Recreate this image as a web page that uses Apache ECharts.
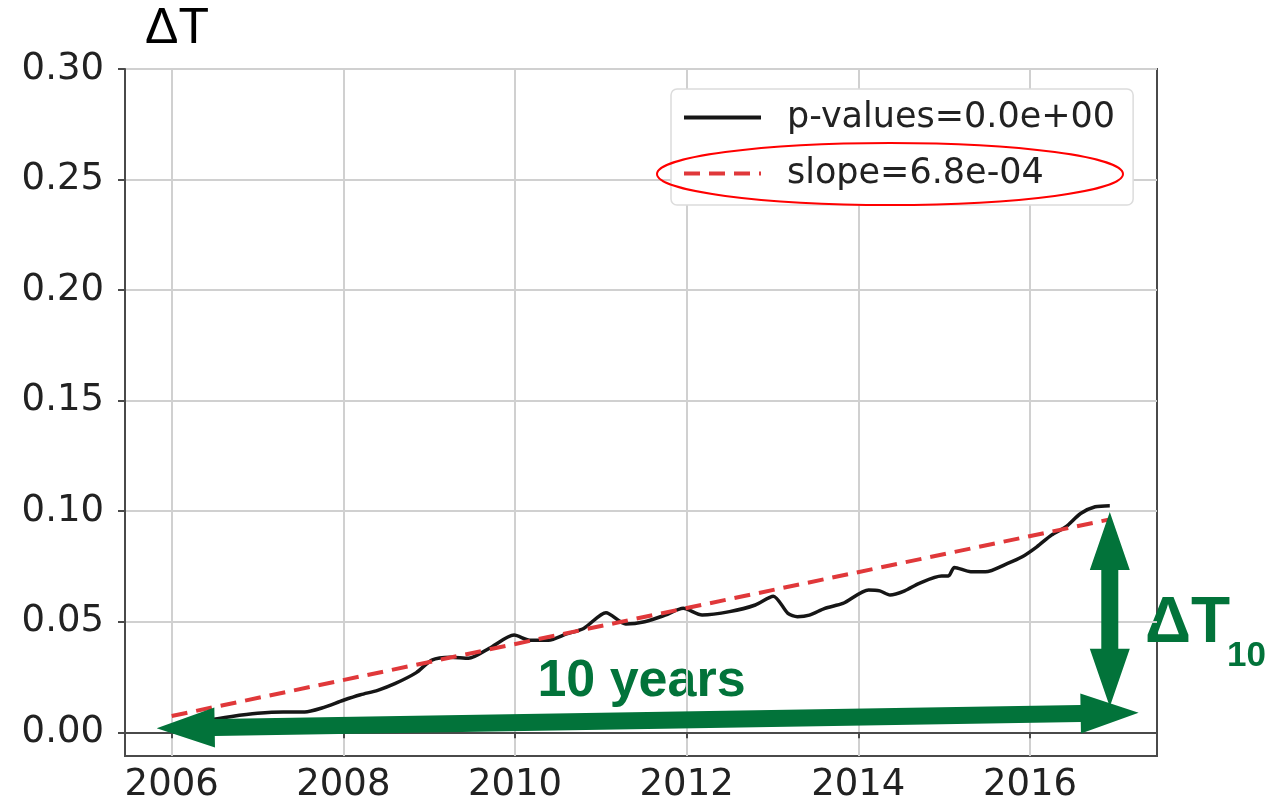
<!DOCTYPE html>
<html>
<head>
<meta charset="utf-8">
<script src="https://cdn.jsdelivr.net/npm/echarts@6/dist/echarts.min.js"></script>
<style>
  html, body { margin: 0; padding: 0; background: #fff; }
  #chart { width: 1273px; height: 808px; }
</style>
</head>
<body>
<div id="chart"></div>
<script>
// black curve: [year, deltaT]
const yearsObs = [2006.0, 2006.2, 2006.45, 2006.7, 2007.0, 2007.3, 2007.55, 2007.75, 2008.0, 2008.2,
  2008.4, 2008.6, 2008.85, 2009.03, 2009.25, 2009.46, 2009.7, 2009.99, 2010.17, 2010.39,
  2010.6, 2010.8, 2011.06, 2011.29, 2011.51, 2011.75, 2011.96, 2012.18, 2012.5, 2012.8,
  2013.01, 2013.18, 2013.29, 2013.43, 2013.61, 2013.82, 2014.12, 2014.25, 2014.37, 2014.54,
  2014.71, 2014.97, 2015.05, 2015.12, 2015.31, 2015.48, 2015.74, 2015.91, 2016.08, 2016.25,
  2016.42, 2016.59, 2016.76, 2016.93];
const deltaT = [0.001, 0.003, 0.0056, 0.0072, 0.0086, 0.0092, 0.0092, 0.011, 0.0145, 0.017,
  0.019, 0.022, 0.027, 0.0327, 0.034, 0.0335, 0.038, 0.044, 0.0417, 0.0417,
  0.0445, 0.047, 0.0541, 0.049, 0.050, 0.053, 0.0561, 0.0531, 0.0546, 0.0576,
  0.0616, 0.0538, 0.0523, 0.053, 0.0561, 0.0583, 0.0644, 0.064, 0.0621, 0.064,
  0.0674, 0.0707, 0.0707, 0.0746, 0.0726, 0.0726, 0.0764, 0.0794, 0.0839, 0.0892,
  0.093, 0.099, 0.102, 0.1025];
// fitted trend line end points
const trendYears = [2006.0, 2016.93];
const trendValues = [0.0074, 0.0963];
// tick labels
const xTicks = [2006, 2008, 2010, 2012, 2014, 2016];
const yTicks = [0, 0.05, 0.10, 0.15, 0.20, 0.25, 0.30];
// annotation arrows: [x1, y1, x2, y2] in data units
const arrowSpans = [[2005.825, 0.0018, 2017.266, 0.0089], [2016.93, 0.0997, 2016.93, 0.0116]];

const green = '#02733a';
const chart = echarts.init(document.getElementById('chart'));

function arrowItem(params, api) {
  const a = api.coord([api.value(0), api.value(1)]);
  const b = api.coord([api.value(2), api.value(3)]);
  const dx = b[0] - a[0], dy = b[1] - a[1];
  const len = Math.sqrt(dx * dx + dy * dy);
  const ux = dx / len, uy = dy / len, nx = -uy, ny = ux;
  const L = 58, hw = 20, sw = 8.5;
  const p = (base, s, k, w) => [base[0] + ux * s * k + nx * w, base[1] + uy * s * k + ny * w];
  const pts = [
    a, p(a, 1, L, hw), p(a, 1, L, sw), p(b, -1, L, sw), p(b, -1, L, hw),
    b, p(b, -1, L, -hw), p(b, -1, L, -sw), p(a, 1, L, -sw), p(a, 1, L, -hw)
  ];
  return { type: 'polygon', shape: { points: pts }, style: { fill: green } };
}

chart.setOption({
  animation: false,
  grid: {
    left: 125, top: 69, right: 116, bottom: 52,
    containLabel: false, outerBoundsMode: 'none',
    show: true, borderColor: '#4a4a4a', borderWidth: 2
  },
  legend: {
    data: ['p-values=0.0e+00', 'slope=6.8e-04'],
    orient: 'vertical',
    left: 671, top: 89,
    padding: [11, 18, 14, 11],
    itemWidth: 77, itemHeight: 14, itemGap: 21,
    itemStyle: { opacity: 0 },
    lineStyle: { width: 4 },
    backgroundColor: '#fff', borderColor: '#dcdcdc', borderWidth: 1.5, borderRadius: 6,
    textStyle: { fontFamily: 'DejaVu Sans', fontSize: 35, color: '#222', padding: [0, 0, 0, 21], lineHeight: 35 }
  },
  xAxis: {
    type: 'value', min: 2005.456, max: 2017.48,
    axisLine: { show: true, lineStyle: { color: '#4a4a4a', width: 2 } },
    axisTick: { show: true, length: 6, customValues: xTicks, lineStyle: { color: '#4a4a4a', width: 2 } },
    axisLabel: { customValues: xTicks, formatter: v => String(Math.round(v)), fontFamily: 'DejaVu Sans', fontSize: 37, color: '#222', margin: 11 },
    splitLine: { show: true, lineStyle: { color: '#d0d0d0', width: 2 } }
  },
  yAxis: {
    type: 'value', min: -0.0107, max: 0.30,
    axisLine: { show: true, lineStyle: { color: '#4a4a4a', width: 2 } },
    axisTick: { show: true, length: 7, customValues: yTicks, lineStyle: { color: '#4a4a4a', width: 2 } },
    axisLabel: { customValues: yTicks, formatter: v => v.toFixed(2), fontFamily: 'DejaVu Sans', fontSize: 37, color: '#222', margin: 21 },
    splitLine: { show: true, lineStyle: { color: '#d0d0d0', width: 2 } }
  },
  series: [
    {
      name: 'p-values=0.0e+00', type: 'line', showSymbol: false, symbol: 'none', smooth: 0.25,
      data: yearsObs.map((y, i) => [y, deltaT[i]]),
      lineStyle: { color: '#161616', width: 3.5 }, itemStyle: { color: '#161616' }
    },
    {
      name: 'slope=6.8e-04', type: 'line', showSymbol: false, symbol: 'none',
      data: trendYears.map((y, i) => [y, trendValues[i]]),
      lineStyle: { color: '#e0383a', width: 4, type: [16, 9] }, itemStyle: { color: '#e0383a' }
    },
    {
      type: 'custom', renderItem: arrowItem, clip: false, z: 5,
      encode: { x: [0, 2], y: [1, 3] },
      data: arrowSpans
    }
  ],
  graphic: [
    { type: 'text', left: 145, top: 4, style: { text: 'ΔT', font: '50px "Liberation Sans"', fill: '#000' } },
    { type: 'text', x: 641.5, y: 682, style: { text: '10 years', font: 'bold 52px "Liberation Sans"', fill: green, align: 'center', verticalAlign: 'middle' } },
    { type: 'text', x: 1145, y: 624.5, style: { text: 'ΔT', font: 'bold 64px "Liberation Sans"', fill: green, align: 'left', verticalAlign: 'middle' } },
    { type: 'text', x: 1227, y: 656, style: { text: '10', font: 'bold 35px "Liberation Sans"', fill: green, align: 'left', verticalAlign: 'middle' } },
    { type: 'ellipse', z: 100, shape: { cx: 890, cy: 174, rx: 233, ry: 31 }, style: { fill: 'none', stroke: '#ff0000', lineWidth: 2 } }
  ]
});
</script>
</body>
</html>
